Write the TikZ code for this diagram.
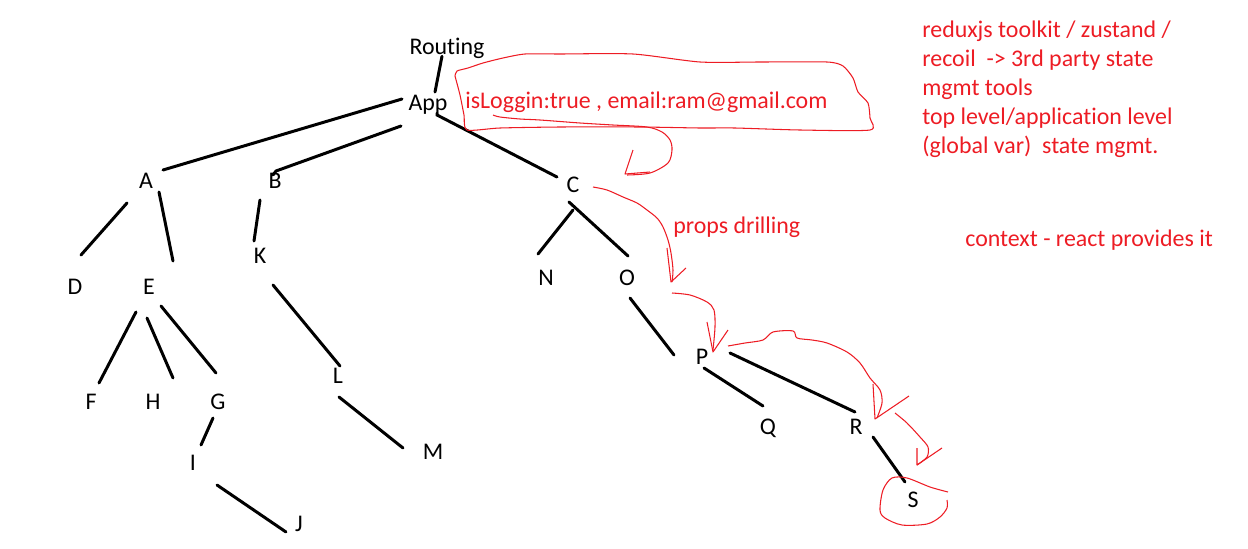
\documentclass[tikz,border=0pt]{standalone}
\usepackage{fontspec}
\setmainfont{Carlito}[Ligatures=NoCommon]
\definecolor{penred}{RGB}{237,28,36}

\begin{document}
\begin{tikzpicture}[x=0.02cm, y=-0.02cm,
		lbl/.style={inner sep=0pt, text depth=0pt, font=\fontsize{13.6}{16.4}\selectfont},
		note/.style={text=penred, inner sep=0pt, anchor=base west, align=left, font=\fontsize{13.6}{16.44}\selectfont},
		branch/.style={line width=1.7pt, line cap=round},
		ink/.style={draw=penred, line width=0.6pt, line join=round}]
		\useasboundingbox (0,0) rectangle (1248,548);
		\node[lbl] (routing) at (447,46) {Routing};
		\node[lbl] (app) at (428,103) {App};
		\node[lbl] (a) at (146,181) {A};
		\node[lbl] (b) at (275,181) {B};
		\node[lbl] (c) at (573,185) {C};
		\node[lbl] (d) at (75,287) {D};
		\node[lbl] (e) at (149,287) {E};
		\node[lbl] (k) at (260,256) {K};
		\node[lbl] (n) at (546,278) {N};
		\node[lbl] (o) at (627,278) {O};
		\node[lbl] (f) at (91,402) {F};
		\node[lbl] (h) at (153,402) {H};
		\node[lbl] (g) at (218,402) {G};
		\node[lbl] (l) at (338,376) {L};
		\node[lbl] (i) at (193,463) {I};
		\node[lbl] (m) at (433,452) {M};
		\node[lbl] (j) at (299,524) {J};
		\node[lbl] (p) at (702,357) {P};
		\node[lbl] (q) at (768,427) {Q};
		\node[lbl] (r) at (856,427) {R};
		\node[lbl] (s) at (913,500) {S};
		\draw[branch] ([shift={(-5,2)}]routing.base) -- ([shift={(7,-11)}]app.center);
		\draw[branch] ([shift={(-26,-4)}]app.center) -- ([shift={(17,-11)}]a.center);
		\draw[branch] ([shift={(-27,23)}]app.center) -- ([shift={(1,-10)}]b.center) -- ([shift={(-2,-6)}]b.center);
		\draw[branch] ([shift={(9,10)}]app.center) -- ([shift={(9,12)}]app.center) -- ([shift={(-16,-8)}]c.center);
		\draw[branch] ([shift={(-19,22)}]a.center) -- ([shift={(6,-32)}]d.center);
		\draw[branch] ([shift={(13,11)}]a.center) -- ([shift={(24,-26)}]e.center);
		\draw[branch] ([shift={(-15,19)}]b.center) -- ([shift={(-6,-15)}]k.center);
		\draw[branch] ([shift={(13,29)}]k.center) -- ([shift={(2,-10)}]l.center);
		\draw[branch] ([shift={(-13,25)}]e.center) -- ([shift={(8,-19)}]f.center);
		\draw[branch] ([shift={(-2,31)}]e.center) -- ([shift={(20,-24)}]h.center);
		\draw[branch] ([shift={(12,19)}]e.center) -- ([shift={(-2,-29)}]g.center);
		\draw[branch] ([shift={(-5,16)}]g.center) -- ([shift={(8,-18)}]i.center);
		\draw[branch] ([shift={(1,21)}]l.center) -- ([shift={(-30,-4)}]m.center);
		\draw[branch] ([shift={(24,22)}]i.center) -- ([shift={(-13,8)}]j.center);
		\draw[branch] ([shift={(0,25)}]c.center) -- ([shift={(-8,-24)}]n.center);
		\draw[branch] ([shift={(-4,17)}]c.center) -- ([shift={(1,-22)}]o.center);
		\draw[branch] ([shift={(3,20)}]o.center) -- ([shift={(-28,-2)}]p.center);
		\draw[branch] ([shift={(2,11)}]p.center) -- ([shift={(-5,-21)}]q.center);
		\draw[branch] ([shift={(28,-4)}]p.center) -- ([shift={(-1,-15)}]r.center);
		\draw[branch] ([shift={(17,10)}]r.center) -- ([shift={(-8,-18)}]s.center);
		\node[note] (state) at (465,108) {isLoggin:true , email:ram@gmail.com};
		\node[note] (drill) at (673,233) {props drilling};
		\node[note] (tools) at (922,153) {reduxjs toolkit / zustand /\\recoil~ -> 3rd party state\\mgmt tools\\top level/application level\\(global var)~ state mgmt.};
		\node[note] (ctx) at (965,246) {context - react provides it};
		\draw[ink] plot[smooth, tension=0.4] coordinates {(455,76) (457,71) (468,68) (483,63) (503,58) (525,54) (560,54) (633,54) (700,62) (760,62) (827,62) (843,66) (853,78) (858,92) (868,103) (870,118) (870,130) (800,130) (735,128) (700,128) (640,127) (560,127) (500,128) (467,130) (464,115) (460,95) (455,76)};
		\draw[ink] plot[smooth, tension=0.5] coordinates {(493,115) (500,117) (520,119) (540,120) (580,123) (613,125) (647,127) (662,132) (670,140) (672,150) (668,163) (650,173) (627,175)};
		\draw[ink] (633,150) -- (625,174) -- (650,172);
		\draw[ink] plot[smooth, tension=0.5] coordinates {(593,187) (607,190) (623,197) (637,203) (647,210) (657,218) (663,227) (668,240) (671,253) (673,270) (672,282)};
		\draw[ink] (667,248) -- (671,282) -- (686,268);
		\draw[ink] plot[smooth, tension=0.5] coordinates {(672,293) (690,295) (707,302) (714,310) (715,327) (713,350)};
		\draw[ink] (707,322) -- (713,352) -- (728,330);
		\draw[ink] plot[smooth, tension=0.5] coordinates {(728,346) (745,343) (763,340) (773,332) (793,331) (797,338) (812,340) (827,343) (847,352) (860,363) (870,378) (880,390) (882,403) (877,418)};
		\draw[ink] (873,384) -- (875,419) -- (909,396);
		\draw[ink] plot[smooth, tension=0.5] coordinates {(895,413) (907,423) (920,437) (928,447) (927,457) (917,465)};
		\draw[ink] (917,448) -- (917,465) -- (942,448);
		\draw[ink] plot[smooth, tension=0.5] coordinates {(948,492) (930,487) (907,478) (892,478) (883,490) (880,510) (885,518) (902,525) (927,524) (940,517) (947,508) (947,500)};
	\end{tikzpicture}
\end{document}
